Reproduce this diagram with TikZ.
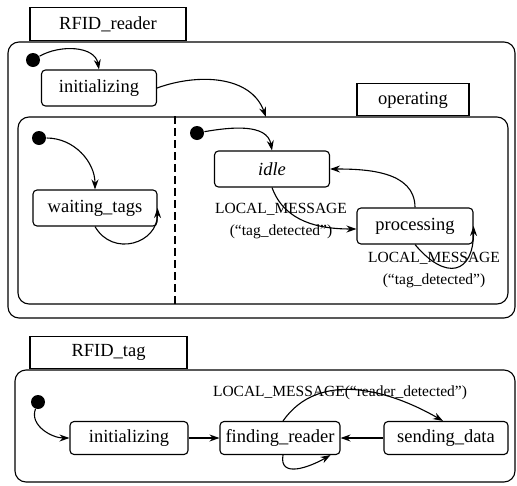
\documentclass[tikz,border=0pt]{standalone}
\usepackage{fontspec}
\setmainfont{Liberation Serif}
\usetikzlibrary{arrows.meta, positioning}

\begin{document}
\begin{tikzpicture}[x=1pt, y=1pt, >={Stealth[length=10pt,width=7pt]}, line width=1.1pt,
    state/.style={draw, rounded corners=4pt, minimum height=36pt, inner sep=3pt, font=\fontsize{18.5}{20}\selectfont},
    composite/.style={draw, rounded corners=11pt, inner sep=0pt},
    tab/.style={draw, anchor=south west, inner sep=0pt, font=\fontsize{18.5}{20}\selectfont},
    initial/.style={circle, fill, inner sep=0pt, minimum size=14pt},
    msg/.style={align=center, inner sep=0pt, font=\fontsize{15.5}{22}\selectfont}]

            \useasboundingbox (0,0) rectangle (517,-485);

            % Composite states and their tabs
            \node[composite, minimum width=507pt, minimum height=276pt] (reader) at (261.5,-180) {};
            \node[tab, minimum width=156pt, minimum height=33pt] (readertab) at ([xshift=22pt]reader.north west) {RFID\_reader};

            \node[composite, minimum width=490pt, minimum height=187pt] (operating) at (263,-210.5) {};
            \node[tab, minimum width=112pt, minimum height=32pt] (operatingtab) at ([xshift=339pt]operating.north west) {operating};

            \node[composite, minimum width=500pt, minimum height=112pt] (tag) at (265,-426) {};
            \node[tab, minimum width=157pt, minimum height=32pt] (tagtab) at ([xshift=15pt]tag.north west) {RFID\_tag};

            % Region border
            \draw[line width=1.7pt, dash pattern=on 8pt off 4pt] (175,0 |- operating.north) -- (175,0 |- operating.south);

            % Reader states
            \node[initial] (rdot) at (33,-60) {};
            \node[state, minimum width=115pt] (rinit) at (99,-88) {initializing};
            \coordinate (opentry) at (266,-117);

            \node[initial] (wdot) at (39,-138) {};
            \node[state, minimum width=124pt] (waiting) at (95,-208) {waiting\_tags};

            \node[initial] (odot) at (197,-133) {};
            \node[state, minimum width=115pt] (idle) at (272,-169) {\itshape idle};
            \node[state, minimum width=116pt] (processing) at (415,-226) {processing};

            \node[msg] (msga) at (281,-221) {LOCAL\_MESSAGE\\(“tag\_detected”)};
            \node[msg] (msgb) at (434,-270) {LOCAL\_MESSAGE\\(“tag\_detected”)};

            % Tag states
            \node[initial] (tdot) at (38,-402) {};
            \node[state, minimum width=118pt, minimum height=33pt] (tinit) at (129,-438) {initializing};
            \node[state, minimum width=120pt, minimum height=33pt] (finding) at (280,-438) {finding\_reader};
            \node[state, minimum width=124pt, minimum height=33pt] (sending) at (446,-438) {sending\_data};

            \node[msg] (msgc) at (340,-393) {LOCAL\_MESSAGE(“reader\_detected”)};

            % Transitions: reader
            \draw[->] (rdot) to[out=30, in=100] (rinit.north);
            \draw[->] (rinit.east) to[out=20, in=110] (opentry);
            \draw[->] (wdot) to[out=0, in=90] (waiting.north);
            \draw[->] (waiting.south) to[out=-60, in=-90, looseness=1.4] (waiting.east);
            \draw[->] (odot) to[out=10, in=100] (idle.north);
            \draw[->] (idle.south) to[out=-70, in=180] ([yshift=-3pt]processing.west);
            \draw[->] (processing.north) to[out=90, in=0] (idle.east);
            \draw[->] (processing.south) to[out=-50, in=-90, looseness=2] (processing.east);

            % Transitions: tag
            \draw[->] (tdot) to[out=-110, in=180] (tinit.west);
            \draw[->] (tinit) -- (finding);
            \draw[->] (sending) -- (finding);
            \draw[->] ([xshift=3pt]finding.north) to[out=55, in=150] ([xshift=-3pt]sending.north);
            \draw[->] ([xshift=3pt]finding.south) to[out=-100, in=-150, looseness=1.3] ([xshift=-10pt]finding.south east);

        \end{tikzpicture}
\end{document}
